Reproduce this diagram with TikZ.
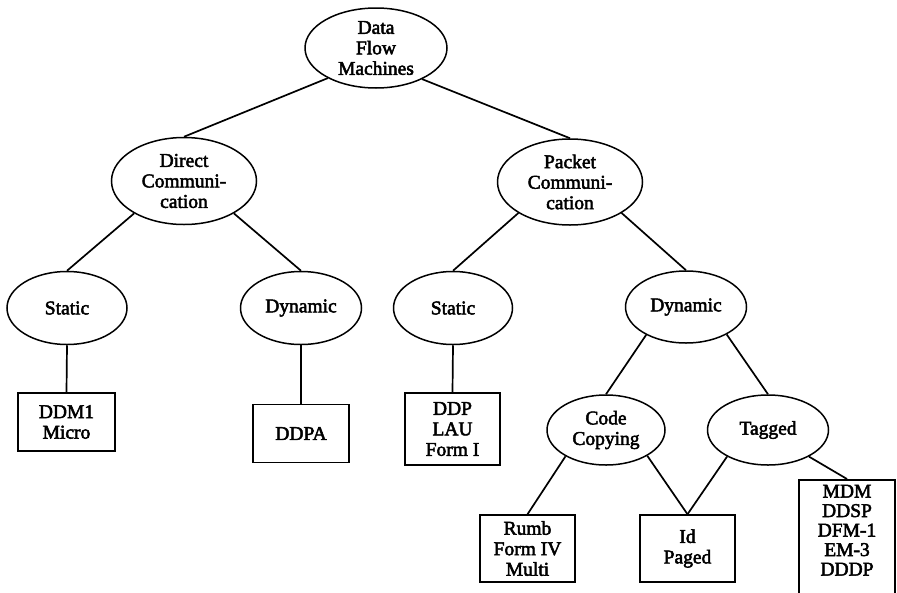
\documentclass[tikz,border=0pt]{standalone}
\usepackage{fontspec}
\setmainfont{Liberation Serif}[FakeBold=2.5]
\usetikzlibrary{shapes.geometric}
\begin{document}
\begin{tikzpicture}[x=1pt,y=1pt,
  every node/.style={font=\fontsize{19.5}{20.5}\selectfont, align=center, inner sep=0pt},
  cat/.style={draw, ellipse, line width=1.5pt},
  leaf/.style={draw, rectangle, line width=1.5pt},
  link/.style={line width=1.7pt}]
\useasboundingbox (0,0) rectangle (897,-592);
\clip (0,0) rectangle (897,-592);

% classification nodes
\node[cat, minimum width=142, minimum height=80] (dfm) at (376,-48) {Data\\Flow\\Machines};
\node[cat, minimum width=145, minimum height=87] (direct) at (184,-181) {Direct\\Communi-\\cation};
\node[cat, minimum width=145, minimum height=86] (packet) at (570,-182) {Packet\\Communi-\\cation};
\node[cat, minimum width=120, minimum height=73] (dstatic) at (67,-308) {Static};
\node[cat, minimum width=121, minimum height=73] (ddynamic) at (301,-308) {Dynamic};
\node[cat, minimum width=119, minimum height=73] (pstatic) at (453,-308) {Static};
\node[cat, minimum width=121, minimum height=72] (pdynamic) at (686,-307) {Dynamic};
\node[cat, minimum width=118, minimum height=70] (copying) at (606,-430) {Code\\Copying};
\node[cat, minimum width=121, minimum height=70] (tagged) at (768,-430) {Tagged};

% machine lists
\node[leaf, minimum width=97, minimum height=58] (ddm) at (66.5,-422) {DDM1\\Micro};
\node[leaf, minimum width=96, minimum height=58] (ddpa) at (301,-433.5) {DDPA};
\node[leaf, minimum width=95, minimum height=72] (ddp) at (452.5,-429) {DDP\\LAU\\Form I};
\node[leaf, minimum width=95, minimum height=67] (rumb) at (527.5,-548.5) {Rumb\\Form IV\\Multi};
\node[leaf, minimum width=95, minimum height=67] (idp) at (687.5,-548.5) {Id\\Paged};
\node[leaf, anchor=north, minimum width=96, inner ysep=5pt,
      font=\fontsize{19.5}{19.5}\selectfont] (mdm) at (847,-479)
      {MDM\\DDSP\\DFM-1\\EM-3\\DDDP\rule[-40pt]{0pt}{0pt}};

% tree edges
\draw[link] (dfm.212) -- (direct.north);
\draw[link] (dfm.326) -- (packet.north);
\draw[link] (direct.213) -- (dstatic.north);
\draw[link] (direct.327) -- (ddynamic.north);
\draw[link] (packet.211) -- (pstatic.north);
\draw[link] (packet.329) -- (pdynamic.north);
\draw[link] (dstatic.south) -- (ddm.north);
\draw[link] (ddynamic.south) -- (ddpa.north);
\draw[link] (pstatic.south) -- (ddp.north);
\draw[link] (pdynamic.215) -- (copying.north);
\draw[link] (pdynamic.326) -- (tagged.north);
\draw[link] (copying.213) -- (rumb.north);
\draw[link] (copying.328) -- (idp.north);
\draw[link] (tagged.213) -- (idp.north);
\draw[link] (tagged.327) -- (mdm.north);
\end{tikzpicture}
\end{document}
